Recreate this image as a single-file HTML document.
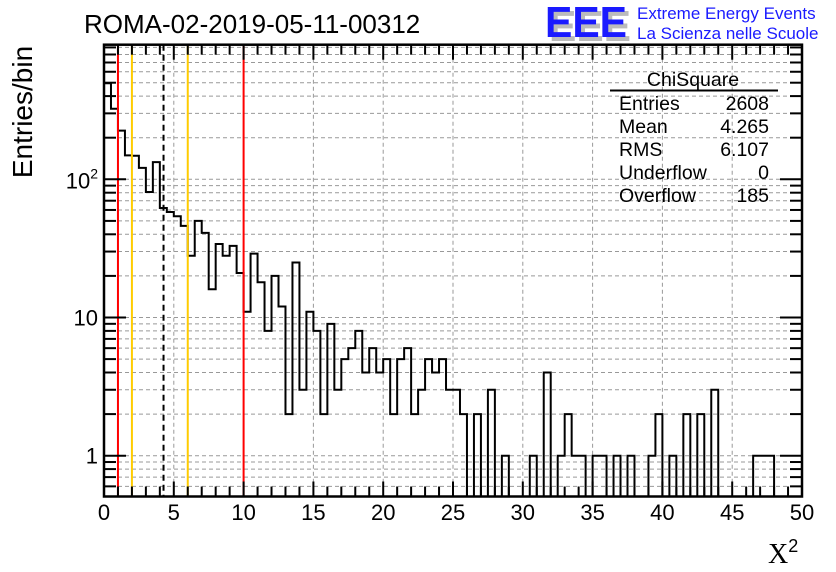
<!DOCTYPE html>
<html><head><meta charset="utf-8"><style>
body{margin:0;background:#fff;}
svg{display:block;font-family:"Liberation Sans",Arial,sans-serif;}
</style></head><body>
<svg id="c" width="836" height="572" viewBox="0 0 836 572">
<g id="grid"></g>
<g id="marks"></g>
<g id="vlines"></g>
<g id="axes"></g>
<text x="84" y="33" font-size="26">ROMA-02-2019-05-11-00312</text>
<g>
<text x="549" y="41" font-size="44" font-weight="bold" fill="#bbb" textLength="82" lengthAdjust="spacingAndGlyphs">EEE</text>
<text x="545" y="37" font-size="44" font-weight="bold" fill="#1a1aff" textLength="82" lengthAdjust="spacingAndGlyphs">EEE</text>
<text x="637" y="19" font-size="17" fill="#1a1aff">Extreme Energy Events</text>
<text x="637" y="39" font-size="17" fill="#1a1aff">La Scienza nelle Scuole</text>
</g>
<g font-size="19.5">
<text x="693" y="86" text-anchor="middle">ChiSquare</text>
<line x1="610" y1="90.5" x2="778" y2="90.5" stroke="#000" stroke-width="2"/>
<text x="619" y="110">Entries</text><text x="769" y="110" text-anchor="end">2608</text>
<text x="619" y="133">Mean</text><text x="769" y="133" text-anchor="end">4.265</text>
<text x="619" y="156">RMS</text><text x="769" y="156" text-anchor="end">6.107</text>
<text x="619" y="179">Underflow</text><text x="769" y="179" text-anchor="end">0</text>
<text x="619" y="202">Overflow</text><text x="769" y="202" text-anchor="end">185</text>
</g>
<text transform="translate(32,112) rotate(-90)" text-anchor="middle" font-size="28">Entries/bin</text>
<text x="768" y="563" font-size="28" font-family="'Liberation Serif',serif">X<tspan font-size="18" dy="-11" font-family="'Liberation Sans',sans-serif">2</tspan></text>
</svg>
<script>
const counts=[495,324,225,149,148,121,81,133,62,58,54,46,28,50,41,16,34,28,33,21,11,29,18,8,20,12,2,25,3,11,8,2,9,3,5,6,8,4,6,4,5,2,5,6,2,3,5,4,5,3,3,2,0,2,0,3,0,1,0,0,0,1,0,4,0,1,2,1,1,0,1,1,0,1,0,1,0,0,1,2,0,1,0,2,0,2,0,3,0,0,0,0,0,1,1,1,0,0,0,0];
const binWidth=[0.5];
const xTicks=[0,5,10,15,20,25,30,35,40,45,50];
const refRed=[1,10];
const refYellow=[2,6];
const refMean=[4.265];
const yMajor=[1,10,100];
const NS="http://www.w3.org/2000/svg";
const X0=104,X1=802,Y0=496.5,Y1=44.7;
const xs=v=>X0+(v/50)*(X1-X0);
const yLog1=455.7,dec=138.2;
const ys=v=>v<=0?Y0:Math.max(Y1,Math.min(Y0,yLog1-Math.log10(v)*dec));
function el(t,a,p){const e=document.createElementNS(NS,t);for(const k in a)e.setAttribute(k,a[k]);p.appendChild(e);return e;}
const grid=document.getElementById('grid'),axes=document.getElementById('axes'),marks=document.getElementById('marks'),vl=document.getElementById('vlines');
const yTickVals=[];
for(let d=-1;d<=2;d++)for(let m=1;m<=9;m++){const v=m*Math.pow(10,d);const y=ys(v);if(v>=0.5&&y>Y1&&y<Y0)yTickVals.push(v);}
yTickVals.forEach(v=>{const y=ys(v);
const g=el('line',{x1:X0,x2:X1,y1:y,y2:y,stroke:'#999','stroke-dasharray':'4,3','stroke-width':1},grid);


const maj=yMajor.includes(v);const L=maj?22:12;
el('line',{x1:X0,x2:X0+L,y1:y,y2:y,stroke:'#000','stroke-width':2},axes);
el('line',{x1:X1-L,x2:X1,y1:y,y2:y,stroke:'#000','stroke-width':2},axes);
});
xTicks.forEach(v=>{const x=xs(v);
if(v>0&&v<50){const g=el('line',{x1:x,x2:x,y1:Y1,y2:Y0,stroke:'#999','stroke-dasharray':'4,3','stroke-width':1},grid);

}
const t=el('text',{x:x,y:520,'text-anchor':'middle','font-size':22},axes);t.textContent=v;


});
for(let v=0;v<=50;v++){const x=xs(v);const L=v%5==0?15:10;
el('line',{x1:x,x2:x,y1:Y0,y2:Y0-L,stroke:'#000','stroke-width':2},axes);
el('line',{x1:x,x2:x,y1:Y1,y2:Y1+L,stroke:'#000','stroke-width':2},axes);}
[['10',ys(10)],['1',ys(1)]].forEach(([s,y])=>{const t=el('text',{x:98,y:y+8,'text-anchor':'end','font-size':22},axes);t.textContent=s;

});
{const t=el('text',{x:98,y:ys(100)+9,'text-anchor':'end','font-size':22},axes);t.innerHTML='10<tspan font-size="14" dy="-10">2</tspan>';

}
el('rect',{x:X0,y:Y1,width:X1-X0,height:Y0-Y1,fill:'none',stroke:'#000','stroke-width':2.5},axes);
let d='M'+X0+','+Y0;
counts.forEach((c,i)=>{const xa=xs(i*binWidth[0]),xb=xs((i+1)*binWidth[0]);const y=ys(c);d+=' L'+xa+','+y+' L'+xb+','+y;});
d+=' L'+X1+','+Y0;
const p=el('path',{d:d,fill:'none',stroke:'#000','stroke-width':2},marks);


function vline(v,col,dash,name){const x=xs(v);const l=el('line',{x1:x,x2:x,y1:Y1,y2:Y0,stroke:col,'stroke-width':2},vl);if(dash)l.setAttribute('stroke-dasharray',dash);

}
refRed.forEach(v=>vline(v,'#f00',null,'red-reference-line'));
refYellow.forEach(v=>vline(v,'#fc0',null,'yellow-reference-line'));
refMean.forEach(v=>vline(v,'#000','6,4','mean-line'));
</script>
</body></html>
